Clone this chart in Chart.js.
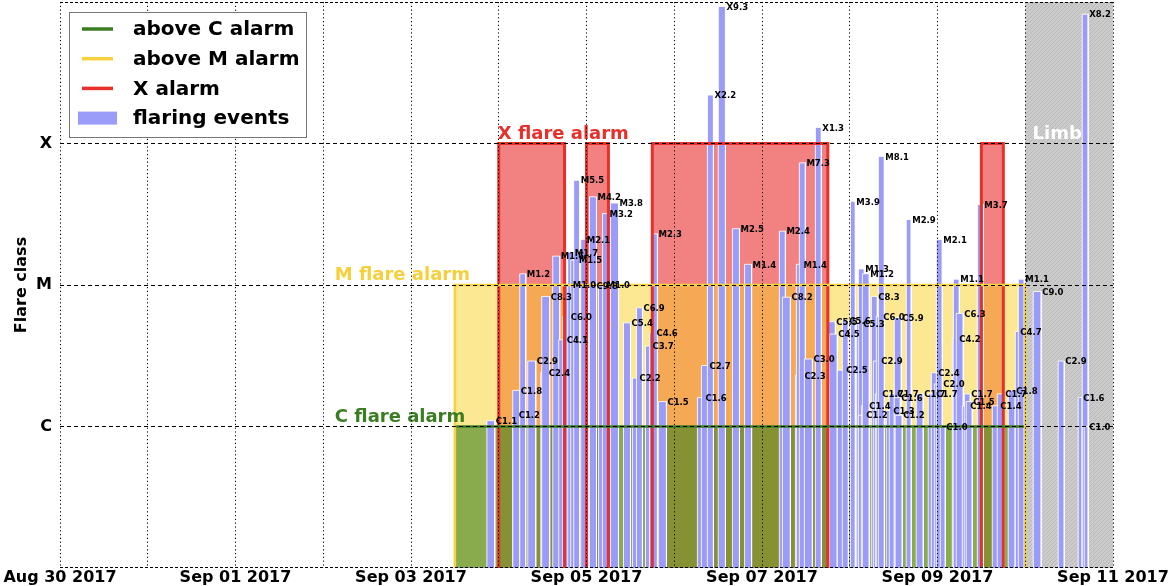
<!DOCTYPE html>
<html>
<head>
<meta charset="utf-8">
<script src="https://cdn.jsdelivr.net/npm/chart.js@4.4.0/dist/chart.umd.min.js"></script>
<style>
  html, body { margin: 0; padding: 0; background: #fff; }
</style>
</head>
<body>
<canvas id="flareChart" width="1173" height="586"></canvas>
<script>
// flaring events (GOES class, start / end in UTC, 2017)
const flareClass = [
  "C1.1", "C1.2", "C1.8", "M1.2", "C2.9", "C2.4", "C8.3", "M1.6", "C4.1", "C6.0",
  "M1.0", "M1.7", "M1.5", "M5.5", "M2.1", "C9.8", "M4.2", "M1.0", "M3.2", "M3.8",
  "C5.4", "C2.2", "C6.9", "C3.7", "C4.6", "M2.3", "C1.5", "C1.6", "C2.7", "X2.2",
  "X9.3", "M2.5", "M1.4", "M2.4", "C8.2", "C2.3", "M1.4", "M7.3", "C3.0", "X1.3",
  "C5.5", "C4.5", "C2.5", "C5.6", "M3.9", "C5.3", "M1.3", "C1.2", "C1.4", "M1.2",
  "C8.3", "C2.9", "C1.7", "C6.0", "M8.1", "C1.3", "C1.7", "C5.9", "C1.6", "C1.2",
  "M2.9", "C1.7", "C1.7", "C2.4", "C2.0", "M2.1", "C1.0", "C4.2", "M1.1", "C6.3",
  "C1.4", "C1.7", "C1.5", "M3.7", "C1.4", "C1.7", "C1.8", "C4.7", "M1.1", "C9.0",
  "C2.9", "C1.6", "X8.2", "C1.0",
];
const flareStart = [
  "09-03 20:45", "09-04 03:50", "09-04 03:50", "09-04 05:45", "09-04 07:56", "09-04 11:29", "09-04 11:45", "09-04 14:46", "09-04 16:24", "09-04 17:30",
  "09-04 18:02", "09-04 18:52", "09-04 19:41", "09-04 20:30", "09-04 22:25", "09-05 00:33", "09-05 00:49", "09-05 03:17", "09-05 04:22", "09-05 06:34",
  "09-05 10:07", "09-05 12:34", "09-05 13:40", "09-05 16:08", "09-05 17:13", "09-05 18:02", "09-05 19:41", "09-06 06:20", "09-06 07:26", "09-06 09:04",
  "09-06 12:02", "09-06 15:55", "09-06 19:14", "09-07 04:45", "09-07 05:35", "09-07 09:08", "09-07 09:24", "09-07 10:13", "09-07 11:35", "09-07 14:36",
  "09-07 18:09", "09-07 18:25", "09-07 20:36", "09-07 21:58", "09-08 00:10", "09-08 01:48", "09-08 02:21", "09-08 02:21", "09-08 03:10", "09-08 03:27",
  "09-08 05:54", "09-08 06:27", "09-08 07:00", "09-08 07:16", "09-08 07:49", "09-08 10:00", "09-08 10:49", "09-08 12:10", "09-08 12:10", "09-08 12:26",
  "09-08 15:27", "09-08 18:11", "09-08 21:28", "09-08 22:18", "09-08 23:08", "09-08 23:40", "09-09 00:46", "09-09 04:03", "09-09 04:19", "09-09 05:08",
  "09-09 06:47", "09-09 07:20", "09-09 07:52", "09-09 10:53", "09-09 14:59", "09-09 16:21", "09-09 19:21", "09-09 21:16", "09-09 22:05", "09-10 02:11",
  "09-10 09:01", "09-10 14:29", "09-10 15:35", "09-10 16:08",
];
const flareEnd = [
  "09-03 22:55", "09-04 05:10", "09-04 05:45", "09-04 07:23", "09-04 10:07", "09-04 13:24", "09-04 13:56", "09-04 16:40", "09-04 18:19", "09-04 19:24",
  "09-04 19:57", "09-04 20:30", "09-04 21:36", "09-04 22:08", "09-04 23:47", "09-05 02:28", "09-05 02:44", "09-05 05:12", "09-05 06:01", "09-05 08:45",
  "09-05 12:02", "09-05 14:13", "09-05 15:18", "09-05 17:46", "09-05 18:52", "09-05 19:24", "09-05 21:52", "09-06 08:15", "09-06 09:21", "09-06 10:43",
  "09-06 14:00", "09-06 17:50", "09-06 21:09", "09-07 06:24", "09-07 07:46", "09-07 11:19", "09-07 11:03", "09-07 11:52", "09-07 13:47", "09-07 16:14",
  "09-07 20:04", "09-07 20:36", "09-07 22:47", "09-07 23:37", "09-08 01:32", "09-08 03:27", "09-08 03:59", "09-08 04:16", "09-08 05:05", "09-08 05:21",
  "09-08 07:33", "09-08 08:22", "09-08 08:38", "09-08 08:55", "09-08 09:28", "09-08 11:39", "09-08 12:44", "09-08 14:06", "09-08 13:50", "09-08 14:22",
  "09-08 16:49", "09-08 20:06", "09-08 23:23", "09-08 23:57", "09-09 01:19", "09-09 01:19", "09-09 02:08", "09-09 05:41", "09-09 05:58", "09-09 07:03",
  "09-09 08:41", "09-09 08:58", "09-09 09:31", "09-09 12:31", "09-09 16:54", "09-09 18:16", "09-09 21:16", "09-09 22:22", "09-09 23:44", "09-10 04:22",
  "09-10 10:40", "09-10 15:35", "09-10 17:13", "09-10 17:13",
];

// alarm windows and limb period
const cAlarmSpans = [["09-03 12:00", "09-10 00:00"]];
const mAlarmSpans = [["09-03 12:00", "09-10 00:00"]];
const xAlarmSpans = [
  ["09-04 00:00", "09-04 18:00"],
  ["09-05 00:00", "09-05 06:00"],
  ["09-05 18:00", "09-07 18:00"],
  ["09-09 12:00", "09-09 18:00"],
];
const limbSpan = ["09-10 00:00", "09-11 00:00"];

// axes
const yTickLabels = ["C", "M", "X"];
const yTickLevels = [1e-6, 1e-5, 1e-4];
const floorLevel = 1e-7;
const topLevel = 1e-3;
const axisStart = "08-30 00:00";
const axisEnd = "09-11 00:00";
const xTickLabels = ["Aug 30 2017", "Sep 01 2017", "Sep 03 2017", "Sep 05 2017", "Sep 07 2017", "Sep 09 2017", "Sep 11 2017"];

const DAY = 86400000;
const FONT = "'DejaVu Sans', sans-serif";

const toMs = (s) => Date.parse("2017-" + s.replace(" ", "T") + ":00Z");
const fluxOf = (c) => ({ C: 1e-6, M: 1e-5, X: 1e-4 })[c[0]] * parseFloat(c.slice(1));

// a box from the floor up to a level, between two times
function box(from, to, level) {
  return [
    { x: toMs(from), y: floorLevel },
    { x: toMs(from), y: level },
    { x: toMs(to), y: level },
    { x: toMs(to), y: floorLevel },
  ];
}

function hatch() {
  const c = document.createElement("canvas");
  c.width = 4;
  c.height = 4;
  const g = c.getContext("2d");
  g.fillStyle = "#cbcbcb";
  g.fillRect(0, 0, 4, 4);
  g.strokeStyle = "rgba(150,150,150,0.3)";
  g.lineWidth = 1;
  g.beginPath();
  g.moveTo(0, 4);
  g.lineTo(4, 0);
  g.stroke();
  return g.createPattern(c, "repeat");
}

const datasets = [];

// alarm fills: red first, yellow and green laid over it
xAlarmSpans.forEach(([a, b]) => {
  datasets.push({ data: box(a, b, 1e-4), backgroundColor: "rgba(232,40,40,0.58)", borderColor: "transparent", borderWidth: 0, fill: "start", order: 100 });
});
mAlarmSpans.forEach(([a, b]) => {
  datasets.push({ data: box(a, b, 1e-5), backgroundColor: "rgba(250,210,40,0.5)", borderColor: "transparent", borderWidth: 0, fill: "start", order: 90 });
});
cAlarmSpans.forEach(([a, b]) => {
  datasets.push({ data: box(a, b, 1e-6), backgroundColor: "rgba(60,130,30,0.6)", borderColor: "transparent", borderWidth: 0, fill: "start", order: 80 });
});
datasets.push({ data: box(limbSpan[0], limbSpan[1], topLevel), backgroundColor: hatch(), borderColor: "transparent", borderWidth: 0, fill: "start", order: 70 });

// flaring events
flareClass.forEach((c, i) => {
  datasets.push({
    data: box(flareStart[i], flareEnd[i], fluxOf(c)),
    backgroundColor: "#9b9bf9",
    borderColor: "rgba(255,255,255,0.85)",
    borderWidth: 1,
    fill: "start",
    order: 60 - i * 0.01,
  });
});

// alarm outlines
xAlarmSpans.forEach(([a, b]) => {
  datasets.push({ data: box(a, b, 1e-4), borderColor: "#e8302a", borderWidth: 3, fill: false, order: 20 });
});
cAlarmSpans.forEach(([a, b]) => {
  datasets.push({ data: [{ x: toMs(a), y: 1e-6 }, { x: toMs(b), y: 1e-6 }], borderColor: "#3a7d22", borderWidth: 2.5, fill: false, order: 15 });
});
mAlarmSpans.forEach(([a, b]) => {
  datasets.push({ data: box(a, b, 1e-5), borderColor: "#f7d23e", borderWidth: 2.5, fill: false, order: 10 });
});

const labelsPlugin = {
  id: "flareLabels",
  afterDatasetsDraw(chart) {
    const { ctx, scales: { x, y } } = chart;
    ctx.save();
    ctx.fillStyle = "#000";
    ctx.textBaseline = "middle";
    ctx.font = "bold 8.5px " + FONT;
    flareClass.forEach((c, i) => {
      ctx.fillText(c, x.getPixelForValue(toMs(flareEnd[i])) + 1, y.getPixelForValue(fluxOf(c)) + 1);
    });

    ctx.textBaseline = "alphabetic";
    ctx.font = "bold 18px " + FONT;
    ctx.fillStyle = "#e8302a";
    ctx.fillText("X flare alarm", x.getPixelForValue(toMs(xAlarmSpans[0][0])) - 1, y.getPixelForValue(1e-4) - 5);
    ctx.fillStyle = "#f5d03c";
    ctx.fillText("M flare alarm", x.getPixelForValue(toMs("09-02 03:10")), y.getPixelForValue(1e-5) - 5);
    ctx.fillStyle = "#3a7d22";
    ctx.fillText("C flare alarm", x.getPixelForValue(toMs("09-02 03:10")), y.getPixelForValue(1e-6) - 5);
    ctx.fillStyle = "#fff";
    ctx.fillText("Limb", x.getPixelForValue(toMs(limbSpan[0]) + 2 * 3600000), y.getPixelForValue(1e-4) - 5);
    ctx.restore();
  },
};

const framePlugin = {
  id: "frameAndLegend",
  afterDraw(chart) {
    const { ctx, chartArea: a } = chart;
    ctx.save();
    ctx.strokeStyle = "#000";
    ctx.lineWidth = 1;
    ctx.setLineDash([3, 2]);
    ctx.beginPath();
    ctx.moveTo(a.left, a.top + 0.5);
    ctx.lineTo(a.right, a.top + 0.5);
    ctx.moveTo(a.left, a.bottom - 0.5);
    ctx.lineTo(a.right, a.bottom - 0.5);
    ctx.stroke();
    ctx.setLineDash([]);

    // legend
    const left = a.left + 9;
    const top = a.top + 10;
    ctx.fillStyle = "#fff";
    ctx.fillRect(left, top, 237, 125);
    ctx.strokeStyle = "#777";
    ctx.strokeRect(left + 0.5, top + 0.5, 237, 125);
    const rows = [
      { text: "above C alarm", color: "#3a7d22" },
      { text: "above M alarm", color: "#f7d23e" },
      { text: "X alarm", color: "#e8302a" },
    ];
    ctx.font = "bold 20px " + FONT;
    ctx.textBaseline = "middle";
    rows.forEach((r, i) => {
      const cy = top + 17 + i * 29.7;
      ctx.strokeStyle = r.color;
      ctx.lineWidth = 3.5;
      ctx.beginPath();
      ctx.moveTo(left + 13, cy);
      ctx.lineTo(left + 44, cy);
      ctx.stroke();
      ctx.fillStyle = "#000";
      ctx.fillText(r.text, left + 64, cy + 1);
    });
    const cy = top + 17 + 3 * 29.7;
    ctx.fillStyle = "#9b9bf9";
    ctx.fillRect(left + 9, cy - 6.5, 39, 13);
    ctx.fillStyle = "#000";
    ctx.fillText("flaring events", left + 64, cy + 1);
    ctx.restore();
  },
};

new Chart(document.getElementById("flareChart"), {
  type: "line",
  data: { datasets },
  options: {
    responsive: false,
    animation: false,
    devicePixelRatio: 1,
    events: [],
    layout: { padding: { top: 2, right: 60, bottom: 0, left: 0 } },
    elements: {
      point: { radius: 0, hoverRadius: 0 },
      line: { tension: 0, borderJoinStyle: "miter" },
    },
    scales: {
      x: {
        type: "linear",
        min: toMs(axisStart),
        max: toMs(axisEnd),
        afterBuildTicks: (s) => {
          const ticks = [];
          for (let t = s.min; t <= s.max; t += DAY) ticks.push({ value: t });
          s.ticks = ticks;
        },
        afterFit: (s) => {
          s.height = 18;
        },
        ticks: {
          autoSkip: false,
          maxRotation: 0,
          minRotation: 0,
          padding: 0,
          color: "#000",
          font: { family: FONT, size: 16, weight: "bold" },
          callback: (v, i) => (i % 2 === 0 ? xTickLabels[i / 2] : ""),
        },
        grid: { z: 1, color: "#000", lineWidth: 1, drawTicks: false },
        border: { display: false, dash: [1.2, 2.6] },
      },
      y: {
        type: "logarithmic",
        min: floorLevel,
        max: topLevel,
        afterBuildTicks: (s) => {
          s.ticks = yTickLevels.map((v) => ({ value: v }));
        },
        afterFit: (s) => {
          s.width = 60;
          s.paddingTop = 0;
          s.paddingBottom = 0;
        },
        ticks: {
          padding: 8,
          color: "#000",
          font: { family: FONT, size: 16, weight: "bold" },
          callback: (v, i) => yTickLabels[i],
        },
        grid: { z: 1, color: "#000", lineWidth: 1, drawTicks: false },
        border: { display: false, dash: [4, 3] },
        title: {
          display: true,
          text: "Flare class",
          color: "#000",
          font: { family: FONT, size: 16, weight: "bold" },
          padding: { top: 12, bottom: 0 },
        },
      },
    },
    plugins: {
      legend: { display: false },
      tooltip: { enabled: false },
      colors: { enabled: false },
    },
  },
  plugins: [labelsPlugin, framePlugin],
});
</script>
</body>
</html>
